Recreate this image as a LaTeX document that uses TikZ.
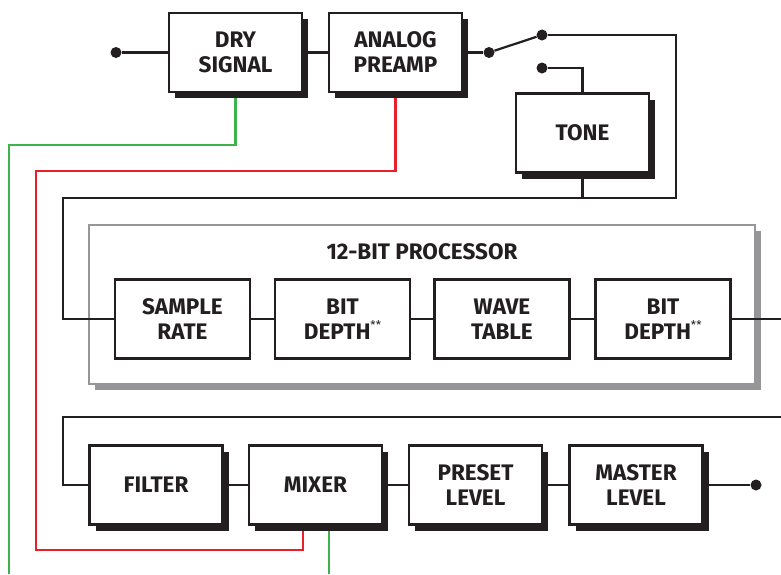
\documentclass[tikz,border=0pt]{standalone}
\usepackage{fontspec}
\setmainfont{Fira Sans}
\usetikzlibrary{shadows}
\pgfdeclarelayer{background}
\pgfsetlayers{background,main}
\definecolor{ink}{RGB}{35,31,32}
\definecolor{sgreen}{RGB}{60,180,75}
\definecolor{sred}{RGB}{232,32,42}
\definecolor{pgray}{RGB}{150,150,152}
\tikzset{
  lbl/.style={font=\fontsize{22.5}{25}\selectfont\bfseries, text=ink, align=center},
  blk/.style={lbl, draw=ink, line width=2.5pt, fill=white, minimum width=133pt, minimum height=79pt, inner sep=0pt},
  shblk/.style={blk, drop shadow={shadow xshift=6pt, shadow yshift=-6pt, fill=ink, opacity=1}},
  wire/.style={draw=ink, line width=2.2pt},
  gwire/.style={draw=sgreen, line width=2.4pt},
  rwire/.style={draw=sred, line width=2.4pt},
  dot/.style={circle, fill=ink, inner sep=0pt, minimum size=11pt},
}
\newcommand{\stars}{\raisebox{0.42em}{\fontsize{12}{12}\selectfont\mdseries **}}
\begin{document}
\begin{tikzpicture}[x=1pt,y=-1pt]
\useasboundingbox (0,0) rectangle (781,574);
% processor frame
\node[draw=pgray, line width=2.5pt, fill=white, minimum width=666pt, minimum height=159pt, inner sep=0pt,
  drop shadow={shadow xshift=6pt, shadow yshift=-6pt, fill=pgray, opacity=1}] (proc) at (422,304.5) {};
\node[lbl] (ptitle) at (422,252) {12-BIT PROCESSOR};
% top row
\node[shblk] (dry) at (235.5,52.5) {DRY\\SIGNAL};
\node[shblk] (pre) at (395.5,52.5) {ANALOG\\PREAMP};
\node[shblk] (tone) at (582.5,133) {TONE};
\node[dot] (in) at (116,52.5) {};
\node[dot] (piv) at (489,52.5) {};
\node[dot] (c1) at (542,35) {};
\node[dot] (c2) at (542,68) {};
% processor row
\node[blk, minimum width=135pt] (sr) at (182.5,319) {SAMPLE\\RATE};
\node[blk, minimum width=135pt] (bd1) at (342.5,319) {BIT\\DEPTH\stars};
\node[blk, minimum width=135pt] (wt) at (502,319) {WAVE\\TABLE};
\node[blk, minimum width=135pt] (bd2) at (663,319) {BIT\\DEPTH\stars};
% bottom row
\node[shblk] (filt) at (156,485) {FILTER};
\node[shblk] (mix) at (315.5,485) {MIXER};
\node[shblk] (pres) at (475.5,485) {PRESET\\LEVEL};
\node[shblk] (mast) at (636,485) {MASTER\\LEVEL};
\node[dot] (out) at (756,485) {};
% coordinates
\coordinate (tr) at (676,35);
\coordinate (jr) at (676,198);
\coordinate (jt) at (582.5,198);
\coordinate (jl) at (63,198);
\coordinate (e1) at (781,319);
\coordinate (e2) at (781,417);
\coordinate (bl) at (63,417);
\coordinate (gl) at (9,145);
\coordinate (gb) at (9,574);
\coordinate (rl) at (36,171);
\coordinate (rb) at (36,550);
\coordinate (mg) at (329,574);
\begin{pgfonlayer}{background}
\draw[gwire] (dry.south) |- (gl) -- (gb);
\draw[rwire] (pre.south) |- (rl) -- (rb) -| ([xshift=-12.5pt]mix.south);
\draw[gwire] ([xshift=13.5pt]mix.south) -- (mg);
\draw[wire] (c2) -| (tone.north);
\draw[wire] (tone.south) -- (jt);
\end{pgfonlayer}
\draw[wire] (in) -- (dry.west);
\draw[wire] (dry.east) -- (pre.west);
\draw[wire] (pre.east) -- (piv);
\draw[wire] (piv) -- (c1);
\draw[wire] (c1) -- (tr) -- (jr) -- (jl) |- (sr.west);
\draw[wire] (sr) -- (bd1);
\draw[wire] (bd1) -- (wt);
\draw[wire] (wt) -- (bd2);
\draw[wire] (bd2) -- (e1);
\draw[wire] (e2) -- (bl) |- (filt.west);
\draw[wire] (filt) -- (mix);
\draw[wire] (mix) -- (pres);
\draw[wire] (pres) -- (mast);
\draw[wire] (mast) -- (out);
\end{tikzpicture}
\end{document}
